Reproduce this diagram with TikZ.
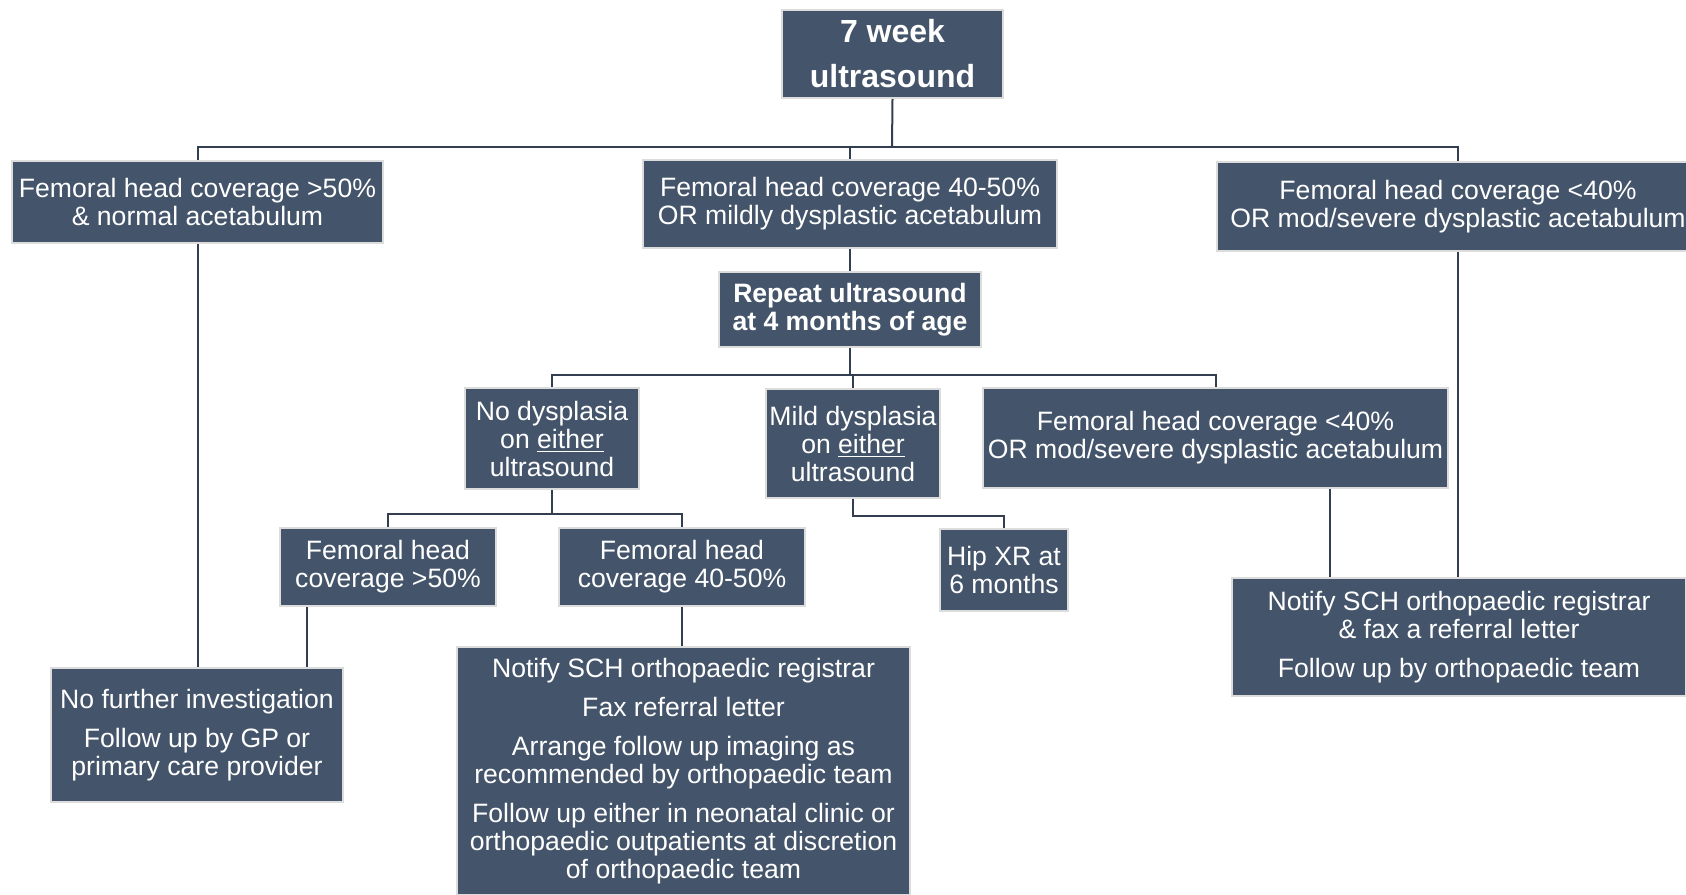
\documentclass[tikz,border=0pt]{standalone}
\usepackage{fontspec}
\setmainfont{Liberation Sans}
\definecolor{boxfill}{HTML}{44546A}
\definecolor{boxline}{HTML}{DCDCDC}
\definecolor{wire}{HTML}{333F50}

\begin{document}
\begin{tikzpicture}[x=0.5pt,y=-0.5pt]

\tikzset{box/.style = {draw=boxline, line width=1.2pt, fill=boxfill, text=white, align=center, inner sep=0pt, font=\fontsize{13.3}{14}\selectfont}}
\tikzset{edge/.style = {draw=wire, line width=1pt}}
\useasboundingbox (0,0) rectangle (1686,894);
%boxes
\node[box, minimum width=110.5pt, minimum height=44pt, font=\fontsize{16}{22.5}\selectfont\bfseries] (top) at (892.5,54) {7 week\\ultrasound};
\node[box, minimum width=185.5pt, minimum height=41pt] (over50) at (197.5,202) {Femoral head coverage >50\%\\\& normal acetabulum};
\node[box, minimum width=207pt, minimum height=44pt] (mild) at (850,204) {Femoral head coverage 40-50\%\\OR mildly dysplastic acetabulum};
\node[box, minimum width=241pt, minimum height=44.5pt] (severe) at (1458,206.5) {Femoral head coverage <40\%\\OR mod/severe dysplastic acetabulum};
\node[box, minimum width=131pt, minimum height=37.5pt, font=\fontsize{13.3}{14}\selectfont\bfseries] (repeat) at (850,309.5) {Repeat ultrasound\\at 4 months of age};
\node[box, minimum width=87pt, minimum height=50.5pt] (nodys) at (552,438.5) {No dysplasia\\on \underline{either}\\ultrasound};
\node[box, minimum width=87pt, minimum height=54.5pt] (milddys) at (853,443.5) {Mild dysplasia\\on \underline{either}\\ultrasound};
\node[box, minimum width=232.5pt, minimum height=50pt] (severe2) at (1215.5,438) {Femoral head coverage <40\%\\OR mod/severe dysplastic acetabulum};
\node[box, minimum width=108pt, minimum height=39pt] (fh50) at (388,567) {Femoral head\\coverage >50\%};
\node[box, minimum width=123pt, minimum height=39pt] (fh4050) at (682,567) {Femoral head\\coverage 40-50\%};
\node[box, minimum width=64pt, minimum height=41pt] (xray) at (1004,570) {Hip XR at\\6 months};
\node[box, minimum width=146pt, minimum height=67pt] (nofurther) at (197,735) {No further investigation\\[5.4pt]Follow up by GP or\\primary care provider};
\node[box, minimum width=226.5pt, minimum height=124pt] (notify) at (683.5,771) {Notify SCH orthopaedic registrar\\[5.4pt]Fax referral letter\\[5.4pt]Arrange follow up imaging as\\recommended by orthopaedic team\\[5.4pt]Follow up either in neonatal clinic or\\orthopaedic outpatients at discretion\\of orthopaedic team};
\node[box, minimum width=227pt, minimum height=59pt] (refer) at (1459,637) {Notify SCH orthopaedic registrar\\\& fax a referral letter\\[5.4pt]Follow up by orthopaedic team};
%lines
\coordinate (bus1) at (892,147);
\coordinate (bus2) at (850,375);
\coordinate (bus3) at (552,514);
\coordinate (bus4) at (1004,516);
\draw[edge] (top.south) -- (bus1);
\draw[edge] (over50.north) |- (bus1) -| (severe.north);
\draw[edge] (mild.north) -- (mild.north |- bus1);
\draw[edge] (mild.south) -- (repeat.north);
\draw[edge] (repeat.south) -- (bus2);
\draw[edge] (nodys.north) |- (bus2) -| (severe2.north);
\draw[edge] (milddys.north) -- (milddys.north |- bus2);
\draw[edge] (nodys.south) -- (bus3);
\draw[edge] (fh50.north) |- (bus3) -| (fh4050.north);
\draw[edge] (milddys.south) |- (bus4) -- (xray.north);
\draw[edge] (over50.south) -- (over50.south |- nofurther.north);
\draw[edge] ([xshift=-40.5pt]fh50.south) -- ([xshift=-40.5pt]fh50.south |- nofurther.north);
\draw[edge] (fh4050.south) -- (fh4050.south |- notify.north);
\draw[edge] ([xshift=57.25pt]severe2.south) -- ([xshift=57.25pt]severe2.south |- refer.north);
\draw[edge] (severe.south) -- (severe.south |- refer.north);

\end{tikzpicture}
\end{document}
